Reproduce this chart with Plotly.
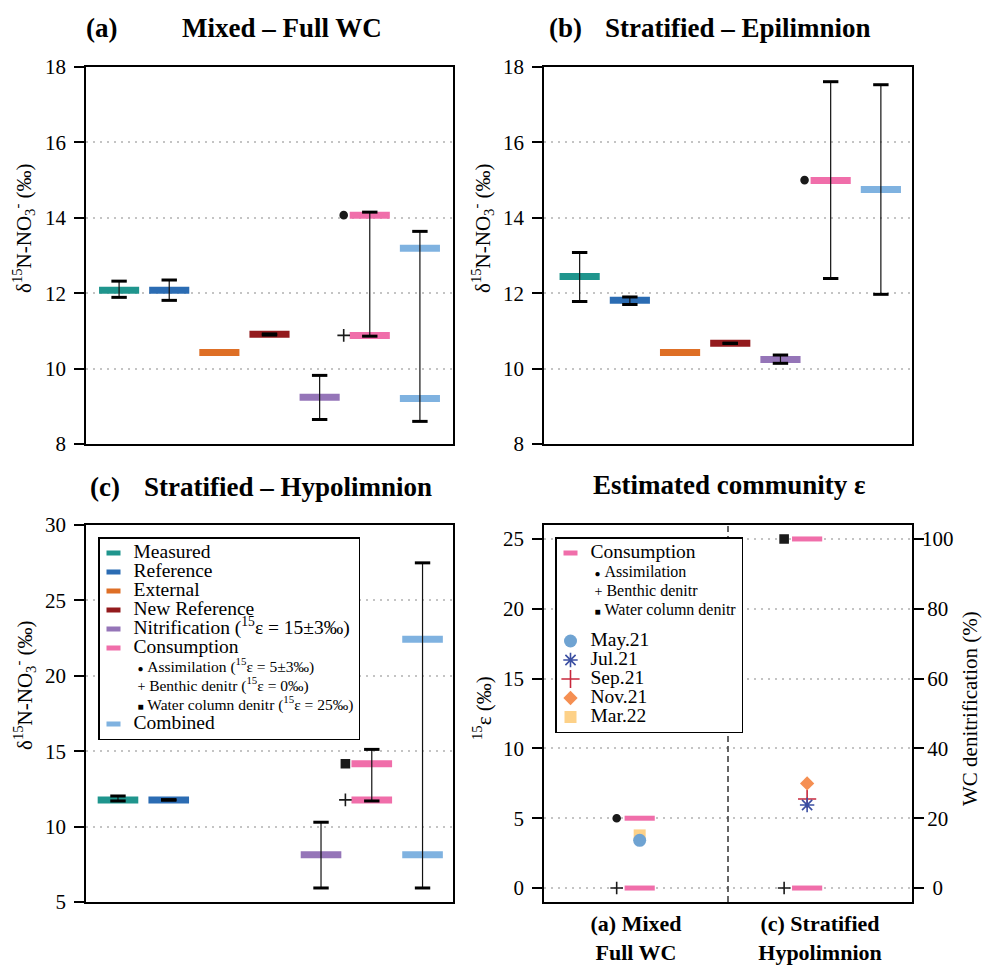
import plotly.graph_objects as go

W, H = 982, 965
SERIF = "Liberation Serif"

# ---------------- data ----------------
categories = ["Measured", "Reference", "External", "New Reference",
              "Nitrification", "Consumption", "Combined"]
cat_pos = [1, 2, 3, 4, 5, 6, 7]
cat_colors = ["#1f958d", "#2b6cb3", "#de6f26", "#931a1d",
              "#9575b8", "#f06eaa", "#7fb2e0"]
legend_labels = ["Measured", "Reference", "External", "New Reference",
                 "Nitrification (<sup>15</sup>ε = 15±3‰)", "Consumption", "Combined"]

pathways = ["Assimilation", "Benthic denitr", "Water column denitr"]
pathway_legend = ["Assimilation (<sup>15</sup>ε = 5±3‰)",
                  "Benthic denitr (<sup>15</sup>ε = 0‰)",
                  "Water column denitr (<sup>15</sup>ε = 25‰)"]
pathway_glyph = ["●", "+", "■"]
pathway_symbol = ["circle", "cross-thin-open", "square"]
pathway_size = [7, 9, 8]

# (a) Mixed - Full WC
a_bar_cat = ["Measured", "Reference", "External", "New Reference", "Nitrification",
             "Consumption", "Consumption", "Combined", "Combined"]
a_bar_val = [12.08, 12.08, 10.43, 10.91, 9.24, 14.07, 10.88, 13.19, 9.21]
a_err_cat = ["Measured", "Reference", "New Reference", "Nitrification", "Consumption", "Combined"]
a_err_lo = [11.89, 11.81, 10.89, 8.65, 10.86, 8.60]
a_err_hi = [12.32, 12.35, 10.92, 9.82, 14.15, 13.64]
a_path_name = ["Assimilation", "Benthic denitr"]
a_path_val = [14.07, 10.88]

# (b) Stratified - Epilimnion
b_bar_cat = ["Measured", "Reference", "External", "New Reference", "Nitrification",
             "Consumption", "Combined"]
b_bar_val = [12.44, 11.81, 10.43, 10.67, 10.24, 14.99, 14.75]
b_err_cat = ["Measured", "Reference", "New Reference", "Nitrification", "Consumption", "Combined"]
b_err_lo = [11.78, 11.70, 10.665, 10.14, 12.39, 11.97]
b_err_hi = [13.08, 11.90, 10.675, 10.36, 17.61, 17.53]
b_path_name = ["Assimilation"]
b_path_val = [15.0]

# (c) Stratified - Hypolimnion
c_bar_cat = ["Measured", "Reference", "Nitrification", "Consumption", "Consumption",
             "Combined", "Combined"]
c_bar_val = [11.77, 11.77, 8.13, 14.17, 11.77, 22.42, 8.13]
c_err_cat = ["Measured", "Reference", "Nitrification", "Consumption", "Combined"]
c_err_lo = [11.70, 11.75, 5.93, 11.70, 5.93]
c_err_hi = [12.03, 11.79, 10.29, 15.12, 27.49]
c_path_name = ["Water column denitr", "Benthic denitr"]
c_path_val = [14.17, 11.77]

# (d) Estimated community epsilon
d_groups = ["(a) Mixed<br>Full WC", "(c) Stratified<br>Hypolimnion"]
d_tick_pos = [1, 2]
d_mark_pos = [1.02, 1.93]
d_cons_group = [0, 0, 1, 1]
d_cons_val = [5, 0, 25, 0]
d_path_group = [0, 0, 1, 1]
d_path_name = ["Assimilation", "Benthic denitr", "Water column denitr", "Benthic denitr"]
d_path_val = [5, 0, 25, 0]
months = ["May.21", "Jul.21", "Sep.21", "Nov.21", "Mar.22"]
month_group = [0, 1, 1, 1, 0]
month_eps = [3.42, 5.95, 6.38, 7.49, 3.77]
month_symbol = ["circle", "asterisk-open", "cross-thin-open", "diamond", "square"]
month_color = ["#6fa3d2", "#3b4fa2", "#c8283c", "#f58f52", "#fdd188"]
month_size = [13, 12, 13, 11, 12]
month_draw_order = [4, 0, 2, 1, 3]
right_tick_vals = [0, 20, 40, 60, 80, 100]

# ---------------- figure ----------------
fig = go.Figure()


def main_name(t):
    return '<span style="font-size:19.5px">' + t + '</span>'


def sub_name(glyph, t, size=15.5):
    gsize = 14 if glyph == "+" else 10
    return ('<span style="font-size:%spx">\u00a0<span style="font-size:%dpx">%s</span>\u00a0%s</span>'
            % (size, gsize, glyph, t))


# legend (c) entries
for i, c in enumerate(categories):
    fig.add_trace(go.Scatter(
        x=[None], y=[None], xaxis="x3", yaxis="y3", mode="markers",
        marker=dict(symbol="line-ew", size=10, color=cat_colors[i],
                    line=dict(color=cat_colors[i], width=5)),
        name=main_name(legend_labels[i]), legend="legend", showlegend=True))
    if c == "Consumption":
        for j, p in enumerate(pathways):
            fig.add_trace(go.Scatter(
                x=[None], y=[None], xaxis="x3", yaxis="y3", mode="markers",
                marker=dict(size=1, color="rgba(0,0,0,0)", line=dict(width=0)),
                name=sub_name(pathway_glyph[j], pathway_legend[j]),
                legend="legend", showlegend=True))

# legend (d) group 1 entries
ci = categories.index("Consumption")
fig.add_trace(go.Scatter(
    x=[None], y=[None], xaxis="x4", yaxis="y4", mode="markers",
    marker=dict(symbol="line-ew", size=10, color=cat_colors[ci],
                line=dict(color=cat_colors[ci], width=5)),
    name=main_name("Consumption"), legend="legend2", legendgroup="g1",
    legendrank=1, showlegend=True))
for j, p in enumerate(pathways):
    fig.add_trace(go.Scatter(
        x=[None], y=[None], xaxis="x4", yaxis="y4", mode="markers",
        marker=dict(size=1, color="rgba(0,0,0,0)", line=dict(width=0)),
        name=sub_name(pathway_glyph[j], p, 16), legend="legend2", legendgroup="g1",
        legendrank=2 + j, showlegend=True))


def add_panel(xr, yr, bar_cat, bar_val, err_cat, err_lo, err_hi, path_name, path_val,
              half=0.4, off=-0.52):
    for c, v in zip(bar_cat, bar_val):
        i = categories.index(c)
        x = cat_pos[i]
        fig.add_trace(go.Scatter(
            x=[x - half, x + half], y=[v, v], xaxis=xr, yaxis=yr, mode="lines",
            line=dict(color=cat_colors[i], width=7), showlegend=False, hoverinfo="skip"))
    ex, ey, cx, cy = [], [], [], []
    for c, lo, hi in zip(err_cat, err_lo, err_hi):
        x = cat_pos[categories.index(c)]
        ex += [x, x, None]
        ey += [lo, hi, None]
        cx += [x, x]
        cy += [lo, hi]
    fig.add_trace(go.Scatter(x=ex, y=ey, xaxis=xr, yaxis=yr, mode="lines",
                             line=dict(color="#111111", width=1.2),
                             showlegend=False, hoverinfo="skip"))
    fig.add_trace(go.Scatter(x=cx, y=cy, xaxis=xr, yaxis=yr, mode="markers",
                             marker=dict(symbol="line-ew", size=11, color="black",
                                         line=dict(color="black", width=3)),
                             showlegend=False, hoverinfo="skip"))
    xc = cat_pos[categories.index("Consumption")] + off
    for n, v in zip(path_name, path_val):
        j = pathways.index(n)
        fig.add_trace(go.Scatter(
            x=[xc], y=[v], xaxis=xr, yaxis=yr, mode="markers",
            marker=dict(symbol=pathway_symbol[j], size=pathway_size[j], color="#1a1a1a",
                        line=dict(color="#1a1a1a", width=1.6)),
            showlegend=False, hoverinfo="skip"))


add_panel("x", "y", a_bar_cat, a_bar_val, a_err_cat, a_err_lo, a_err_hi, a_path_name, a_path_val)
add_panel("x2", "y2", b_bar_cat, b_bar_val, b_err_cat, b_err_lo, b_err_hi, b_path_name, b_path_val)
add_panel("x3", "y3", c_bar_cat, c_bar_val, c_err_cat, c_err_lo, c_err_hi, c_path_name, c_path_val)

# panel (d)
dh = 0.082
doff = -0.125
for g, v in zip(d_cons_group, d_cons_val):
    x = d_mark_pos[g]
    fig.add_trace(go.Scatter(x=[x - dh, x + dh], y=[v, v], xaxis="x4", yaxis="y4",
                             mode="lines", line=dict(color=cat_colors[ci], width=5),
                             showlegend=False, hoverinfo="skip"))
for g, n, v in zip(d_path_group, d_path_name, d_path_val):
    j = pathways.index(n)
    fig.add_trace(go.Scatter(
        x=[d_mark_pos[g] + doff], y=[v], xaxis="x4", yaxis="y4", mode="markers",
        marker=dict(symbol=pathway_symbol[j], size=pathway_size[j], color="#1a1a1a",
                    line=dict(color="#1a1a1a", width=1.6)),
        showlegend=False, hoverinfo="skip"))
for k in month_draw_order:
    fig.add_trace(go.Scatter(
        x=[d_mark_pos[month_group[k]]], y=[month_eps[k]], xaxis="x4", yaxis="y4",
        mode="markers", name=main_name(months[k]), legend="legend2", legendgroup="g2",
        legendrank=10 + k, showlegend=True,
        marker=dict(symbol=month_symbol[k], size=month_size[k], color=month_color[k],
                    line=dict(color=month_color[k], width=1.6 if "open" in month_symbol[k] else 0))))
# invisible trace for the right axis
fig.add_trace(go.Scatter(x=[None], y=[None], xaxis="x4", yaxis="y5", showlegend=False,
                         hoverinfo="skip"))

# ---------------- layout ----------------
xl = [86 / W, 453 / W]
xr = [544 / W, 912 / W]
yt = [1 - 444 / H, 1 - 67 / H]
yb = [1 - 902 / H, 1 - 525 / H]

frame = dict(showline=True, mirror=True, linecolor="black", linewidth=1.8, zeroline=False,
             automargin=False)
yax = dict(frame, ticks="outside", ticklen=10, tickwidth=1.5, tickcolor="black",
           tickfont=dict(family=SERIF, size=21, color="black"),
           showgrid=True, gridcolor="#c4c4c4", griddash="2px,5px", gridwidth=1.5,
           ticklabelstandoff=4)
xax = dict(frame, showticklabels=False, ticks="", showgrid=False)

fig.update_layout(
    template="none",
    width=W, height=H, margin=dict(l=0, r=0, t=0, b=0, pad=0, autoexpand=False),
    paper_bgcolor="white", plot_bgcolor="white",
    font=dict(family=SERIF, color="black"),
    xaxis=dict(xax, domain=xl, range=[0.34, 7.66], anchor="y"),
    yaxis=dict(yax, domain=yt, range=[8, 18], dtick=2, anchor="x"),
    xaxis2=dict(xax, domain=xr, range=[0.29, 7.62], anchor="y2"),
    yaxis2=dict(yax, domain=yt, range=[8, 18], dtick=2, anchor="x2"),
    xaxis3=dict(xax, domain=xl, range=[0.37, 7.6], anchor="y3"),
    yaxis3=dict(yax, domain=yb, range=[5, 30], dtick=5, anchor="x3"),
    xaxis4=dict(xax, domain=xr, range=[0.5, 2.5], anchor="y4", showticklabels=True,
                tickvals=d_tick_pos, ticktext=d_groups,
                tickfont=dict(family=SERIF, size=22, color="black", weight="bold"),
                ticklabelstandoff=1),
    yaxis4=dict(yax, domain=yb, range=[-1, 26], dtick=5, anchor="x4"),
    yaxis5=dict(frame, overlaying="y4", side="right", anchor="x4", range=[-4, 104],
                tickvals=right_tick_vals,
                ticktext=[{3: "", 2: "\u2008", 1: "\u2002"}[len(str(v))] + str(v)
                          for v in right_tick_vals],
                ticks="outside", ticklen=10, tickwidth=1.5, tickcolor="black",
                tickfont=dict(family=SERIF, size=21, color="black"),
                ticklabelstandoff=-6,
                showgrid=False, mirror=False),
    legend=dict(x=98 / W, y=1 - 537 / H, xanchor="left", yanchor="top",
                bgcolor="white", bordercolor="black", borderwidth=1.5,
                font=dict(family=SERIF, size=12, color="black"),
                indentation=-6, tracegroupgap=0),
    legend2=dict(x=555 / W, y=1 - 537 / H, xanchor="left", yanchor="top",
                 bgcolor="white", bordercolor="black", borderwidth=1.5,
                 font=dict(family=SERIF, size=12, color="black"),
                 indentation=-6, tracegroupgap=12),
)

# divider in panel (d)
xdiv = (d_tick_pos[0] + d_tick_pos[1]) / 2
fig.add_shape(type="line", xref="x4", yref="y4 domain", x0=xdiv, x1=xdiv, y0=0, y1=1,
              line=dict(color="#333333", width=1.5, dash="6px,4px"))


def ann(text, x, y, size, angle=0, bold=False):
    fig.add_annotation(text=("<b>%s</b>" % text) if bold else text,
                       x=x / W, y=1 - y / H, xref="paper", yref="paper",
                       xanchor="center", yanchor="middle", showarrow=False,
                       textangle=angle, font=dict(family=SERIF, size=size, color="black"))


ann("(a)", 101, 28, 27, bold=True)
ann("Mixed – Full WC", 282, 28, 27, bold=True)
ann("(b)", 565, 28, 27, bold=True)
ann("Stratified – Epilimnion", 738, 28, 27, bold=True)
ann("(c)", 105, 487, 27, bold=True)
ann("Stratified – Hypolimnion", 288, 487, 27, bold=True)
ann("Estimated community ε", 729, 485, 27, bold=True)

ylab = "δ<sup>15</sup>N-NO<sub>3</sub><sup>-</sup> (‰)"
ann(ylab, 24, 228, 21, angle=-90)
ann(ylab, 483, 228, 21, angle=-90)
ann(ylab, 24, 685, 21, angle=-90)
ann("<sup>15</sup>ε (‰)", 482, 708, 21, angle=-90)
ann("WC denitrification (%)", 970, 709, 21, angle=-90)

fig.write_html("out.html")
